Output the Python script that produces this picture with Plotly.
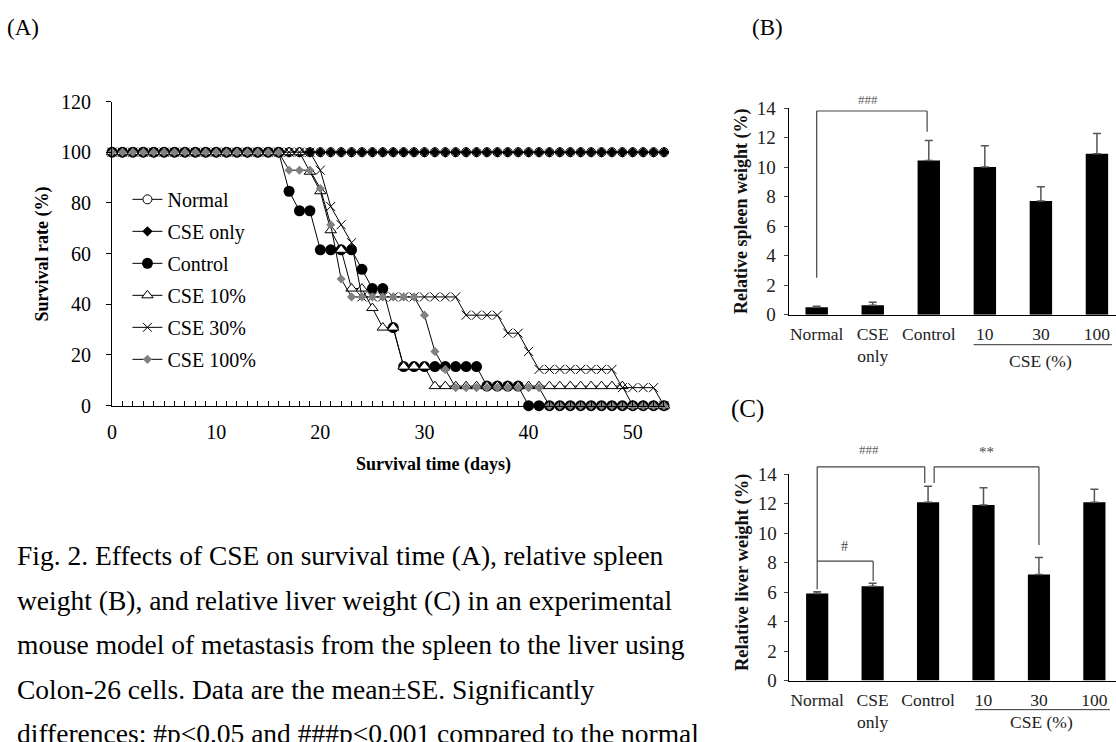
import plotly.graph_objects as go

# ---------------- data ----------------
days = [0, 1, 2, 3, 4, 5, 6, 7, 8, 9, 10, 11, 12, 13, 14, 15, 16, 17, 18, 19,
        20, 21, 22, 23, 24, 25, 26, 27, 28, 29, 30, 31, 32, 33, 34, 35, 36, 37,
        38, 39, 40, 41, 42, 43, 44, 45, 46, 47, 48, 49, 50, 51, 52, 53]

normal = [100, 100, 100, 100, 100, 100, 100, 100, 100, 100, 100, 100, 100, 100,
          100, 100, 100, 100, 100, 100, 100, 100, 100, 100, 100, 100, 100, 100,
          100, 100, 100, 100, 100, 100, 100, 100, 100, 100, 100, 100, 100, 100,
          100, 100, 100, 100, 100, 100, 100, 100, 100, 100, 100, 100]
cse_only = [100, 100, 100, 100, 100, 100, 100, 100, 100, 100, 100, 100, 100, 100,
            100, 100, 100, 100, 100, 100, 100, 100, 100, 100, 100, 100, 100, 100,
            100, 100, 100, 100, 100, 100, 100, 100, 100, 100, 100, 100, 100, 100,
            100, 100, 100, 100, 100, 100, 100, 100, 100, 100, 100, 100]
control = [100, 100, 100, 100, 100, 100, 100, 100, 100, 100, 100, 100, 100, 100,
           100, 100, 100, 84.6, 76.9, 76.9, 61.5, 61.5, 61.5, 61.5, 53.8, 46.2,
           46.2, 30.8, 15.4, 15.4, 15.4, 15.4, 15.4, 15.4, 15.4, 15.4, 7.7, 7.7,
           7.7, 7.7, 0, 0, 0, 0, 0, 0, 0, 0, 0, 0, 0, 0, 0, 0]
cse10 = [100, 100, 100, 100, 100, 100, 100, 100, 100, 100, 100, 100, 100, 100,
         100, 100, 100, 100, 100, 92.3, 84.6, 69.2, 61.5, 46.2, 46.2, 38.5, 30.8,
         30.8, 15.4, 15.4, 15.4, 7.7, 7.7, 7.7, 7.7, 7.7, 7.7, 7.7, 7.7, 7.7,
         7.7, 7.7, 7.7, 7.7, 7.7, 7.7, 7.7, 7.7, 7.7, 7.7, 0, 0, 0, 0]
cse30 = [100, 100, 100, 100, 100, 100, 100, 100, 100, 100, 100, 100, 100, 100,
         100, 100, 100, 100, 100, 100, 92.9, 78.6, 71.4, 64.3, 42.9, 42.9, 42.9,
         42.9, 42.9, 42.9, 42.9, 42.9, 42.9, 42.9, 35.7, 35.7, 35.7, 35.7, 28.6,
         28.6, 21.4, 14.3, 14.3, 14.3, 14.3, 14.3, 14.3, 14.3, 14.3, 7.1, 7.1,
         7.1, 7.1, 0]
cse100 = [100, 100, 100, 100, 100, 100, 100, 100, 100, 100, 100, 100, 100, 100,
          100, 100, 100, 92.9, 92.9, 92.9, 85.7, 71.4, 50.0, 42.9, 42.9, 42.9,
          42.9, 42.9, 42.9, 42.9, 35.7, 21.4, 14.3, 7.1, 7.1, 7.1, 7.1, 7.1, 7.1,
          7.1, 7.1, 7.1, 0, 0, 0, 0, 0, 0, 0, 0, 0, 0, 0, 0]

series_names = ["Normal", "CSE only", "Control", "CSE 10%", "CSE 30%", "CSE 100%"]

groups = ["Normal", "CSE<br>only", "Control", "10", "30", "100"]
spleen_mean = [0.5, 0.65, 10.45, 10.0, 7.7, 10.9]
spleen_se = [0.08, 0.2, 1.35, 1.45, 0.97, 1.38]
liver_mean = [5.9, 6.4, 12.1, 11.9, 7.2, 12.1]
liver_se = [0.12, 0.2, 1.08, 1.18, 1.15, 0.87]

y_ticks_a = [0, 20, 40, 60, 80, 100, 120]
x_ticks_a = [0, 10, 20, 30, 40, 50]
y_ticks_bc = [0, 2, 4, 6, 8, 10, 12, 14]

caption_lines = [
    "Fig. 2. Effects of CSE on survival time (A), relative spleen",
    "weight (B), and relative liver weight (C) in an experimental",
    "mouse model of metastasis from the spleen to the liver using",
    "Colon-26 cells. Data are the mean\u00b1SE. Significantly",
    "differences: #p<0.05 and ###p<0.001 compared to the normal",
]

# ---------------- layout helpers ----------------
W, H = 1116, 742
SERIF = "Liberation Serif"


def fx(px):
    return px / W


def fy(py):
    return 1 - py / H


fig = go.Figure()

styles = [
    dict(symbol="circle", size=9, color="white", line=dict(color="black", width=1)),
    dict(symbol="diamond", size=8, color="black", line=dict(color="black", width=0)),
    dict(symbol="circle", size=11, color="black", line=dict(color="black", width=0)),
    dict(symbol="triangle-up", size=10, color="white", line=dict(color="black", width=1)),
    dict(symbol="x-thin-open", size=9, color="black", line=dict(color="black", width=1)),
    dict(symbol="diamond", size=7, color="#808080", line=dict(color="#808080", width=0)),
]
series = [normal, cse_only, control, cse10, cse30, cse100]

for name, vals, mk in zip(series_names, series, styles):
    fig.add_trace(go.Scatter(
        x=days, y=vals, name=name, mode="lines+markers",
        line=dict(color="black", width=1), marker=mk, cliponaxis=False,
        xaxis="x", yaxis="y", legendgroup=name,
    ))

# bars
fig.add_trace(go.Bar(
    x=groups, y=spleen_mean, width=0.4, marker=dict(color="black", line=dict(width=0)),
    error_y=dict(type="data", array=spleen_se, symmetric=False,
                 arrayminus=[0, 0, 0, 0, 0, 0], color="#555555", thickness=1.5, width=4),
    xaxis="x2", yaxis="y2", showlegend=False,
))
fig.add_trace(go.Bar(
    x=groups, y=liver_mean, width=0.4, marker=dict(color="black", line=dict(width=0)),
    error_y=dict(type="data", array=liver_se, symmetric=False,
                 arrayminus=[0, 0, 0, 0, 0, 0], color="#555555", thickness=1.5, width=4),
    xaxis="x3", yaxis="y3", showlegend=False,
))

axis_common = dict(showline=True, linecolor="black", linewidth=1, showgrid=False,
                   zeroline=False, mirror=False)

fig.update_layout(
    width=W, height=H, margin=dict(l=0, r=0, t=0, b=0, pad=0),
    paper_bgcolor="white", plot_bgcolor="white",
    font=dict(family=SERIF, color="black"),
    barmode="group",
    xaxis=dict(domain=[fx(107.5), fx(663)], range=[0, 53.1], anchor="y",
               tickvals=x_ticks_a, ticks="inside", ticklen=5, tickcolor="black",
               minor=dict(dtick=1, ticks="inside", ticklen=5, tickcolor="black"),
               tickfont=dict(size=20, family=SERIF), ticklabelstandoff=8, **axis_common),
    yaxis=dict(domain=[fy(406.7), fy(93.3)], range=[0, 120], anchor="x",
               tickvals=y_ticks_a, ticks="outside", ticklen=5, tickcolor="black",
               tickfont=dict(size=20, family=SERIF), ticklabelstandoff=11, **axis_common),
    xaxis2=dict(domain=[fx(787.2), 1.0], range=[-0.5, 5.34], anchor="y2", type="category",
                ticks="", tickfont=dict(size=17.5, family=SERIF, color="#222"),
                ticklabelstandoff=3, **axis_common),
    yaxis2=dict(domain=[fy(313), fy(100)], range=[0, 14], anchor="x2",
                tickvals=y_ticks_bc, ticks="outside", ticklen=4, tickcolor="#444",
                tickfont=dict(size=19, family=SERIF, color="#222"), ticklabelstandoff=4,
                **axis_common),
    xaxis3=dict(domain=[fx(788), 1.0], range=[-0.5, 5.39], anchor="y3", type="category",
                ticks="", tickfont=dict(size=17.5, family=SERIF, color="#222"),
                ticklabelstandoff=3, **axis_common),
    yaxis3=dict(domain=[fy(690), fy(477.3)], range=[0, 14], anchor="x3",
                tickvals=y_ticks_bc, ticks="outside", ticklen=4, tickcolor="#444",
                tickfont=dict(size=19, family=SERIF, color="#222"), ticklabelstandoff=4,
                **axis_common),
    legend=dict(x=fx(123), y=fy(174), xanchor="left", yanchor="top",
                bgcolor="rgba(0,0,0,0)", borderwidth=0,
                font=dict(size=20, family=SERIF, color="black"),
                tracegroupgap=3, itemclick=False),
)

shapes = []
ann = []


def text(txt, x, y, xref="paper", yref="paper", size=18, color="black", angle=0,
         xanchor="center", yanchor="middle"):
    ann.append(dict(text=txt, x=x, y=y, xref=xref, yref=yref, textangle=angle,
                    xanchor=xanchor, yanchor=yanchor, showarrow=False,
                    font=dict(size=size, family=SERIF, color=color)))


# panel labels
text("(A)", fx(0), fy(17), xanchor="left", size=23)
text("(B)", fx(748), fy(17), xanchor="left", size=23)
text("(C)", fx(727), fy(410), xanchor="left", size=25)

# axis titles
text("<b>Survival rate (%)</b>", fx(38), fy(250), size=18, angle=-90)
text("<b>Survival time (days)</b>", fx(430), fy(467), size=18)
text("<b>Relative spleen weight (%)</b>", fx(740), fy(206.5), size=18, angle=-90, color="#111")
text("<b>Relative liver weight (%)</b>", fx(741), fy(578.5), size=18.5, angle=-90, color="#111")


def line(xref, yref, x0, y0, x1, y1, color="#444", width=1.2):
    shapes.append(dict(type="line", xref=xref, yref=yref, x0=x0, y0=y0, x1=x1, y1=y1,
                       line=dict(color=color, width=width)))


def d14(v):
    return v / 14.0


# CSE (%) group underline + label
line("x2", "y2 domain", 2.8, -0.145, 5.27, -0.145, color="#333", width=1)
text("CSE (%)", 4.0, -0.222, xref="x2", yref="y2 domain", size=17.5, color="#222")
line("x3", "y3 domain", 2.85, -0.141, 5.28, -0.141, color="#333", width=1)
text("CSE (%)", 4.05, -0.2, xref="x3", yref="y3 domain", size=17.5, color="#222")

# significance brackets (B)
line("x2", "y2 domain", 0, d14(2.5), 0, d14(13.8))
line("x2", "y2 domain", 0, d14(13.8), 1.97, d14(13.8))
line("x2", "y2 domain", 1.97, d14(13.8), 1.97, d14(12.4))
text("###", 0.91, d14(14.6), xref="x2", yref="y2 domain", size=13, color="#666")

# significance brackets (C)
line("x3", "y3 domain", 0, d14(6.2), 0, d14(14.5))
line("x3", "y3 domain", 0, d14(14.5), 1.94, d14(14.5))
line("x3", "y3 domain", 1.94, d14(14.5), 1.94, d14(13.4))
line("x3", "y3 domain", 2.11, d14(13.4), 2.11, d14(14.5))
line("x3", "y3 domain", 2.11, d14(14.5), 4.0, d14(14.5))
line("x3", "y3 domain", 4.0, d14(14.5), 4.0, d14(9.2))
line("x3", "y3 domain", 0, d14(8.1), 1.01, d14(8.1))
line("x3", "y3 domain", 1.01, d14(8.1), 1.01, d14(6.75))
text("###", 0.93, d14(15.7), xref="x3", yref="y3 domain", size=13, color="#666")
text("**", 3.05, d14(15.5), xref="x3", yref="y3 domain", size=15, color="#444")
text("#", 0.49, d14(9.1), xref="x3", yref="y3 domain", size=14, color="#444")

# caption
for i, txt in enumerate(caption_lines):
    text(txt, fx(10), fy(561 + 46 * i), xanchor="left", size=27.5)

fig.update_layout(shapes=shapes, annotations=ann)

fig.write_html("out.html")
